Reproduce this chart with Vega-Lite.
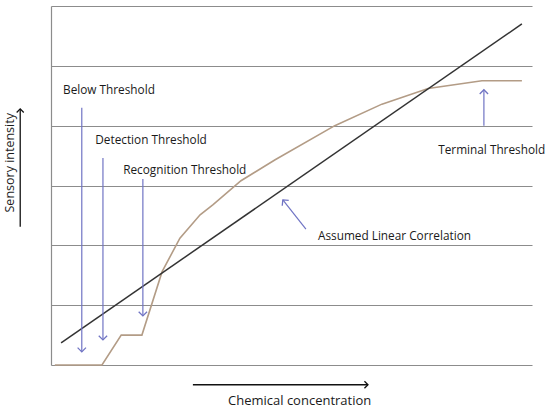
{
  "$schema": "https://vega.github.io/schema/vega-lite/v6.json",
  "description": "Sensory intensity vs chemical concentration with threshold annotations.",
  "width": 481,
  "height": 359,
  "autosize": "none",
  "padding": {"left": 51, "top": 6, "right": 18, "bottom": 46},
  "config": {
    "view": {"stroke": null},
    "text": {"font": "Open Sans", "fontSize": 11.8, "color": "#1a1a1a"}
  },
  "datasets": {
    "linear": [
      {"x": 2.1, "y": 0.37},
      {"x": 97.9, "y": 5.7}
    ],
    "response": [
      {"x": 0.8, "y": 0},
      {"x": 10.6, "y": 0},
      {"x": 14.6, "y": 0.5},
      {"x": 18.9, "y": 0.5},
      {"x": 23.1, "y": 1.56},
      {"x": 26.8, "y": 2.12},
      {"x": 31.0, "y": 2.51},
      {"x": 33.7, "y": 2.68},
      {"x": 39.5, "y": 3.08},
      {"x": 46.6, "y": 3.43},
      {"x": 59.0, "y": 4.0},
      {"x": 68.8, "y": 4.36},
      {"x": 78.4, "y": 4.62},
      {"x": 89.6, "y": 4.75},
      {"x": 97.9, "y": 4.75}
    ],
    "arrows": [
      {"name": "below", "dir": "down", "x": 6.4, "y": 4.3, "x2": 6.4, "y2": 0.22},
      {"name": "detection", "dir": "down", "x": 10.8, "y": 3.46, "x2": 10.8, "y2": 0.42},
      {"name": "recognition", "dir": "down", "x": 19.1, "y": 3.11, "x2": 19.1, "y2": 0.82},
      {"name": "terminal", "dir": "up", "x": 90.0, "y": 4.0, "x2": 90.0, "y2": 4.6},
      {"name": "linear", "dir": "upleft", "x": 53.0, "y": 2.27, "x2": 48.2, "y2": 2.76}
    ],
    "axisArrows": [
      {"name": "concentration", "dir": "right", "x": 29.5, "y": -0.33, "x2": 65.9, "y2": -0.33},
      {"name": "intensity", "dir": "up", "x": -6.4, "y": 2.31, "x2": -6.4, "y2": 4.28}
    ],
    "labels": [
      {"label": "Below Threshold", "x": 2.5, "y": 4.6},
      {"label": "Detection Threshold", "x": 9.2, "y": 3.76},
      {"label": "Recognition Threshold", "x": 15.0, "y": 3.26},
      {"label": "Terminal Threshold", "x": 80.5, "y": 3.6},
      {"label": "Assumed Linear Correlation", "x": 55.5, "y": 2.16}
    ]
  },
  "encoding": {
    "x": {
      "field": "x",
      "type": "quantitative",
      "scale": {"domain": [0, 100], "nice": false, "zero": false},
      "axis": null
    },
    "y": {
      "field": "y",
      "type": "quantitative",
      "scale": {"domain": [0, 6], "nice": false, "zero": false},
      "axis": {
        "values": [0, 1, 2, 3, 4, 5, 6],
        "grid": true,
        "gridColor": "#8c8c8c",
        "gridWidth": 1.2,
        "gridOpacity": 1,
        "ticks": false,
        "labels": false,
        "domainColor": "#8c8c8c",
        "domainWidth": 1.2,
        "title": null
      }
    }
  },
  "layer": [
    {
      "data": {"name": "response"},
      "mark": {"type": "line", "color": "#b39c86", "strokeWidth": 1.6}
    },
    {
      "data": {"name": "linear"},
      "mark": {"type": "line", "color": "#333333", "strokeWidth": 1.5}
    },
    {
      "data": {"name": "arrows"},
      "mark": {"type": "rule", "color": "#7074c4", "strokeWidth": 1.2},
      "encoding": {"x2": {"field": "x2"}, "y2": {"field": "y2"}}
    },
    {
      "data": {"name": "arrows"},
      "transform": [{"filter": "datum.dir == 'down'"}],
      "mark": {"type": "point", "shape": "M-1,-1L0,0L1,-1", "size": 70, "filled": false, "color": "#7074c4", "strokeWidth": 1.3, "opacity": 1},
      "encoding": {"x": {"field": "x2"}, "y": {"field": "y2"}}
    },
    {
      "data": {"name": "arrows"},
      "transform": [{"filter": "datum.dir == 'up'"}],
      "mark": {"type": "point", "shape": "M-1,-1L0,0L1,-1", "angle": 180, "size": 70, "filled": false, "color": "#7074c4", "strokeWidth": 1.3, "opacity": 1},
      "encoding": {"x": {"field": "x2"}, "y": {"field": "y2"}}
    },
    {
      "data": {"name": "arrows"},
      "transform": [{"filter": "datum.dir == 'upleft'"}],
      "mark": {"type": "point", "shape": "M-1,-1L0,0L1,-1", "angle": 141, "size": 70, "filled": false, "color": "#7074c4", "strokeWidth": 1.3, "opacity": 1},
      "encoding": {"x": {"field": "x2"}, "y": {"field": "y2"}}
    },
    {
      "data": {"name": "axisArrows"},
      "mark": {"type": "rule", "color": "#111111", "strokeWidth": 1.3},
      "encoding": {"x2": {"field": "x2"}, "y2": {"field": "y2"}}
    },
    {
      "data": {"name": "axisArrows"},
      "transform": [{"filter": "datum.dir == 'right'"}],
      "mark": {"type": "point", "shape": "M-1,-1L0,0L1,-1", "angle": 270, "size": 50, "filled": false, "color": "#111111", "strokeWidth": 1.3, "opacity": 1},
      "encoding": {"x": {"field": "x2"}, "y": {"field": "y2"}}
    },
    {
      "data": {"name": "axisArrows"},
      "transform": [{"filter": "datum.dir == 'up'"}],
      "mark": {"type": "point", "shape": "M-1,-1L0,0L1,-1", "angle": 180, "size": 50, "filled": false, "color": "#111111", "strokeWidth": 1.3, "opacity": 1},
      "encoding": {"x": {"field": "x2"}, "y": {"field": "y2"}}
    },
    {
      "data": {"name": "labels"},
      "mark": {"type": "text", "align": "left", "baseline": "middle"},
      "encoding": {"text": {"field": "label"}}
    },
    {
      "data": {"values": [{"label": "Chemical concentration", "x": 36.8, "y": -0.6}]},
      "mark": {"type": "text", "align": "left", "baseline": "middle", "fontSize": 13},
      "encoding": {"text": {"field": "label"}}
    },
    {
      "data": {"values": [{"label": "Sensory intensity", "x": -8.5, "y": 3.38}]},
      "mark": {"type": "text", "align": "center", "baseline": "middle", "angle": 270, "fontSize": 12.5},
      "encoding": {"text": {"field": "label"}}
    }
  ]
}
